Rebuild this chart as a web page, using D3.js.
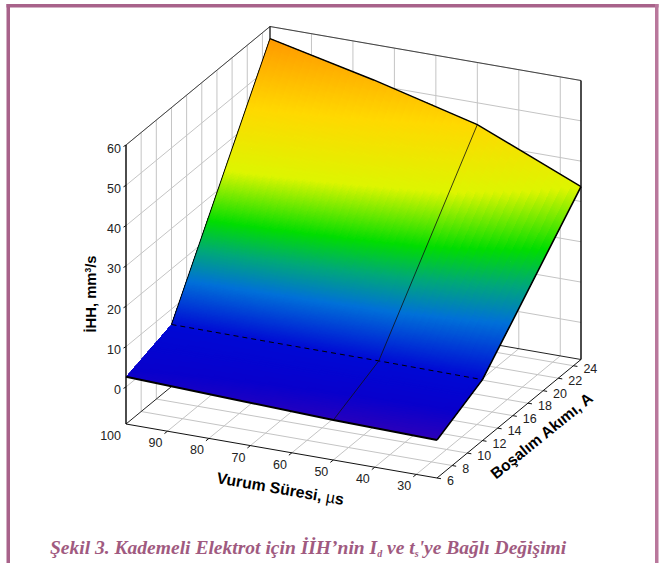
<!DOCTYPE html>
<html><head><meta charset="utf-8">
<script src="https://cdnjs.cloudflare.com/ajax/libs/d3/7.8.5/d3.min.js"></script>
<style>
html,body{margin:0;padding:0;background:#fff}
svg{display:block}
text{font-family:"Liberation Sans",Arial,sans-serif;fill:#222}
</style></head><body>
<svg id="c" width="666" height="563"></svg>
<script>
// ---- data ----
const pulseMesh = [100, 75, 50, 25];          // Vurum Süresi, µs
const currentMesh = [6, 12, 25];              // Boşalım Akımı, A
const z_t100 = [2.5, 6.2, 57];
const z_t75  = [1.6, 6.1, 51.2];
const z_t50  = [0.7, 6.1, 44.6];
const z_t25  = [0.2, 5.9, 33.7];
const zRows = [z_t100, z_t75, z_t50, z_t25];
const pulseTicks = [100, 90, 80, 70, 60, 50, 40, 30];
const currentTicks = [6, 8, 10, 12, 14, 16, 18, 20, 22, 24];
const zTicks = [0, 10, 20, 30, 40, 50, 60];
const colorStops = [0, 3, 6, 14, 19.5, 24.7, 33.6, 44.7, 57];
const colorValues = ["#3000b8", "#0800cc", "#0008d4", "#0070d8", "#00a878", "#00dd00", "#ddf500", "#ffd800", "#ff9900"];
const zMin = -9.2, zMax = 60, tFar = 25, iFar = 25;

// ---- scales (oblique axes) ----
const tX = d3.scaleLinear().domain([100, tFar]).range([0, 311]);
const tY = d3.scaleLinear().domain([100, tFar]).range([0, 54]);
const iX = d3.scaleLinear().domain([6, iFar]).range([0, 144]);
const iY = d3.scaleLinear().domain([6, iFar]).range([0, -118.5]);
const zY = d3.scaleLinear().domain([zMin, zMax]).range([0, -279]);
const P = (t, i, z) => [126 + tX(t) + iX(i), 424 + tY(t) + iY(i) + zY(z)];
const color = d3.scaleLinear().domain(colorStops).range(colorValues).clamp(true);

const svg = d3.select("#c");
const line = d3.line();
const seg = (g, a, b, col, w, extra) => {
  const s = g.append("path").attr("d", line([a, b])).attr("fill", "none")
    .attr("stroke", col).attr("stroke-width", w);
  if (extra) s.attr("stroke-dasharray", extra);
  return s;
};

// frame
const frameCol = "#a8628a";
svg.append("rect").attr("x", 6.5).attr("y", 4).attr("width", 3.5).attr("height", 559).attr("fill", frameCol);
svg.append("rect").attr("x", 6.5).attr("y", 4).attr("width", 652).attr("height", 3.5).attr("fill", frameCol);
svg.append("rect").attr("x", 655).attr("y", 4).attr("width", 3.5).attr("height", 559).attr("fill", "#b9789c");

// grids
const grid = svg.append("g");
const gridCol = "#c4c4c4";
zTicks.forEach(z => {
  seg(grid, P(100, 6, z), P(100, iFar, z), gridCol, 1);
  seg(grid, P(100, iFar, z), P(tFar, iFar, z), gridCol, 1);
});
currentTicks.slice(1).forEach(i => {
  seg(grid, P(100, i, zMin), P(100, i, zMax), gridCol, 1);
  seg(grid, P(100, i, zMin), P(tFar, i, zMin), gridCol, 1);
});
pulseTicks.slice(1).forEach(t => {
  seg(grid, P(t, iFar, zMin), P(t, iFar, zMax), gridCol, 1);
  seg(grid, P(t, 6, zMin), P(t, iFar, zMin), gridCol, 1);
});

// box edges
const box = svg.append("g");
seg(box, P(100, 6, zMax), P(100, iFar, zMax), "#444", 1);
seg(box, P(100, iFar, zMax), P(tFar, iFar, zMax), "#444", 1);
seg(box, P(100, 6, zMin), P(100, iFar, zMin), "#222", 1);
seg(box, P(100, iFar, zMin), P(tFar, iFar, zMin), "#222", 1);
seg(box, P(100, 6, zMin), P(tFar, 6, zMin), "#111", 1);
seg(box, P(tFar, 6, zMin), P(tFar, iFar, zMin), "#111", 1);
seg(box, P(100, 6, zMin), P(100, 6, zMax), "#000", 1.4);
seg(box, P(tFar, iFar, zMin), P(tFar, iFar, zMax), "#000", 1.4);
seg(box, P(100, iFar, zMin), P(100, iFar, zMax), "#000", 1.2);

// surface: each mesh cell shaded finely by its height
const NU = 14;
const cells = [];
for (let a = 0; a < pulseMesh.length - 1; a++) for (let b = 0; b < currentMesh.length - 1; b++) {
  const rowN = b === 1 ? 200 : 30;
  for (let u = 0; u < NU; u++) for (let v = 0; v < rowN; v++) {
    const tAt = k => pulseMesh[a] + (pulseMesh[a + 1] - pulseMesh[a]) * k / NU;
    const iAt = k => currentMesh[b] + (currentMesh[b + 1] - currentMesh[b]) * k / rowN;
    const zAt = (ku, kv) => {
      const p = ku / NU, q = kv / rowN;
      return (1 - p) * ((1 - q) * zRows[a][b] + q * zRows[a][b + 1]) + p * ((1 - q) * zRows[a + 1][b] + q * zRows[a + 1][b + 1]);
    };
    cells.push({
      pts: [[u, v], [u + 1, v], [u + 1, v + 1], [u, v + 1]].map(([ku, kv]) => P(tAt(ku), iAt(kv), zAt(ku, kv))),
      z: zAt(u + .5, v + .5)
    });
  }
}
svg.append("g").attr("shape-rendering", "crispEdges")
  .selectAll("path").data(cells).join("path")
  .attr("d", d => line.curve(d3.curveLinearClosed)(d.pts))
  .attr("fill", d => color(d.z)).attr("stroke", d => color(d.z)).attr("stroke-width", .8);
line.curve(d3.curveLinear);

// mesh lines and outline
const mesh = svg.append("g").attr("fill", "none");
const edge = (pts, col, w, dash) => {
  const s = mesh.append("path").attr("d", line(pts)).attr("stroke", col).attr("stroke-width", w);
  if (dash) s.attr("stroke-dasharray", dash);
};
const col = j => pulseMesh.map((t, r) => P(t, currentMesh[j], zRows[r][j]));
const row = r => currentMesh.map((i, j) => P(pulseMesh[r], i, zRows[r][j]));
edge(col(1), "#000", 1, "5 4");
edge(row(2), "#111", .8);
edge(col(0), "#000", 2);
edge(col(2), "#000", 1.4);
edge(row(3), "#000", 1.6);
edge(row(0).slice(1), "#000", 1);

// ticks
const ticks = svg.append("g");
pulseTicks.slice(1).forEach(t => {
  const [x, y] = P(t, 6, zMin);
  seg(ticks, [x, y], [x - 3, y + 2.4], "#111", 1);
});
currentTicks.forEach(i => {
  const [x, y] = P(tFar, i, zMin);
  seg(ticks, [x, y], [x + 4, y + 0.7], "#111", 1);
});
zTicks.forEach(z => {
  const [x, y] = P(100, 6, z);
  seg(ticks, [x, y], [x - 2.5, y + 1.5], "#111", 1);
});

// tick labels
const fs = 12.5;
const labels = svg.append("g").attr("font-size", fs);
labels.selectAll(".zl").data(zTicks).join("text")
  .attr("x", d => P(100, 6, d)[0] - 5).attr("y", d => P(100, 6, d)[1] + 7.5)
  .attr("text-anchor", "end").text(d => d);
labels.selectAll(".tl").data(pulseTicks).join("text")
  .attr("x", d => P(d, 6, zMin)[0] - 5).attr("y", d => P(d, 6, zMin)[1] + 16)
  .attr("text-anchor", "end").text(d => d);
labels.selectAll(".il").data(currentTicks).join("text")
  .attr("x", d => P(tFar, d, zMin)[0] + 10).attr("y", d => P(tFar, d, zMin)[1] + 7)
  .attr("text-anchor", "start").text(d => d);

// axis titles
const title = (x, y, rot, size) => svg.append("text")
  .attr("transform", `translate(${x},${y}) rotate(${rot})`)
  .attr("text-anchor", "middle").attr("font-size", size)
  .attr("font-weight", "bold").style("fill", "#000");

const zT = title(95.5, 294, -90, 14.8);
zT.append("tspan").text("İHH, mm");
zT.append("tspan").attr("font-size", 8.5).attr("dy", -5).text("3");
zT.append("tspan").attr("dy", 5).text("/s");

const tT = title(279.5, 494, 9.8, 15.8);
tT.append("tspan").text("Vurum Süresi, ");
tT.append("tspan").attr("font-weight", "normal").text("µ");
tT.append("tspan").text("s");

title(545, 440, -39, 15.6).text("Boşalım Akımı, A");

// caption
const cap = svg.append("text").attr("x", 50).attr("y", 554)
  .style("font-family", "'Liberation Serif','Times New Roman',serif").style("fill", "#a05a80")
  .attr("font-weight", "bold").attr("font-style", "italic").attr("font-size", 19.55);
cap.append("tspan").text("Şekil 3. Kademeli Elektrot için İİH’nin I");
cap.append("tspan").attr("font-size", 10).attr("dy", 3).text("d");
cap.append("tspan").attr("dy", -3).text(" ve t");
cap.append("tspan").attr("font-size", 10).attr("dy", 3).text("s");
cap.append("tspan").attr("dy", -3).text("'ye Bağlı Değişimi");
</script>
</body></html>
